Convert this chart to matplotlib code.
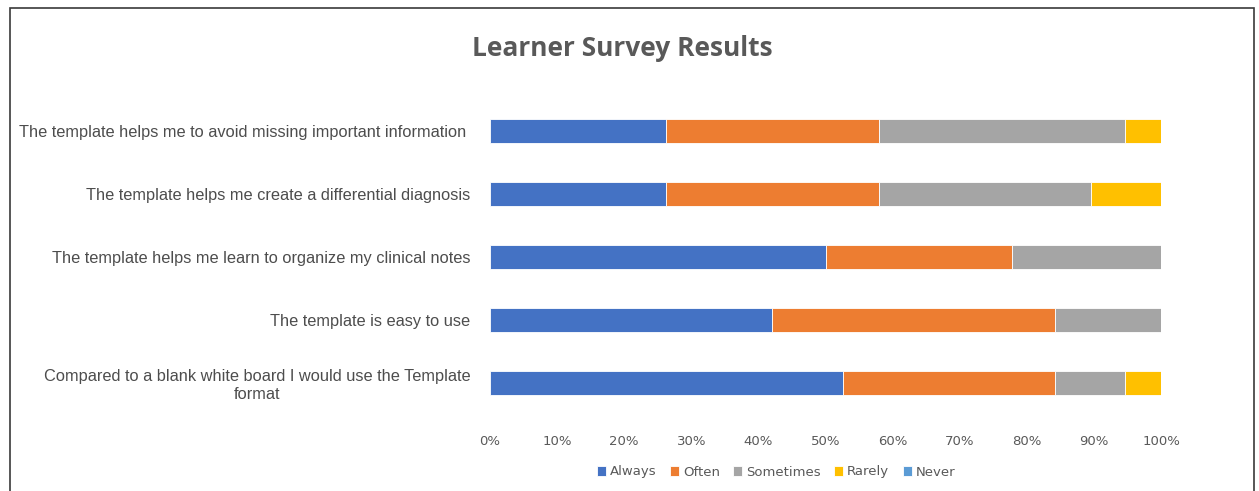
import numpy as np
import matplotlib.pyplot as plt
from matplotlib.patches import Rectangle
from matplotlib.ticker import PercentFormatter

# statements, listed bottom to top as drawn
statements = [
    "Compared to a blank white board I would use the Template\nformat",
    "The template is easy to use",
    "The template helps me learn to organize my clinical notes",
    "The template helps me create a differential diagnosis",
    "The template helps me to avoid missing important information ",
]

# percent of learners per answer (same order as statements)
always = [52.6, 42.1, 50.0, 26.3, 26.3]
often = [31.6, 42.1, 27.8, 31.6, 31.6]
sometimes = [10.5, 15.8, 22.2, 31.6, 36.8]
rarely = [5.3, 0.0, 0.0, 10.5, 5.3]
never = [0.0, 0.0, 0.0, 0.0, 0.0]

series = ["Always", "Often", "Sometimes", "Rarely", "Never"]
colors = ["#4472C4", "#ED7D31", "#A5A5A5", "#FFC000", "#5B9BD5"]

fig = plt.figure(figsize=(12.59, 4.91), dpi=100)
ax = fig.add_axes([490 / 1259, 1 - 414.5 / 491, 671 / 1259, 315 / 491])

y = np.arange(len(statements))
left = np.zeros(len(statements))
for name, vals, col in zip(series, [always, often, sometimes, rarely, never], colors):
    ax.barh(y, vals, left=left, height=0.38, color=col, label=name,
            edgecolor="white", linewidth=0.6)
    left += np.array(vals)

ax.set_xlim(0, 100)
ax.set_ylim(-0.5, 4.5)
ax.set_xticks(np.arange(0, 101, 10))
ax.xaxis.set_major_formatter(PercentFormatter(decimals=0))
ax.set_yticks(y)
ax.set_yticklabels(statements, multialignment="center", family="Liberation Sans")
ax.tick_params(axis="y", length=0, pad=14, labelsize=11.8, labelcolor="#4d4d4d")
ax.tick_params(axis="x", length=0, pad=15, labelsize=9.5, labelcolor="#595959")
for s in ax.spines.values():
    s.set_visible(False)

fig.text(622 / 1259, 1 - 48 / 491, "Learner Survey Results", ha="center", va="center",
         fontsize=19, fontweight="bold", color="#595959", family="Open Sans")

fig.legend(loc="center", bbox_to_anchor=(776 / 1259, 1 - 472 / 491), ncol=5,
           frameon=False, fontsize=9.5, handlelength=0.7, handleheight=0.7,
           handletextpad=0.3, columnspacing=1.0, labelcolor="#595959")

# outer frame of the chart area
fig.patches.append(Rectangle((10 / 1259, -0.1), 1244 / 1259, 1.1 - 8 / 491,
                             transform=fig.transFigure, fill=False,
                             edgecolor="#3a3a3a", linewidth=1.2))

fig.savefig("out.png", dpi=100)
